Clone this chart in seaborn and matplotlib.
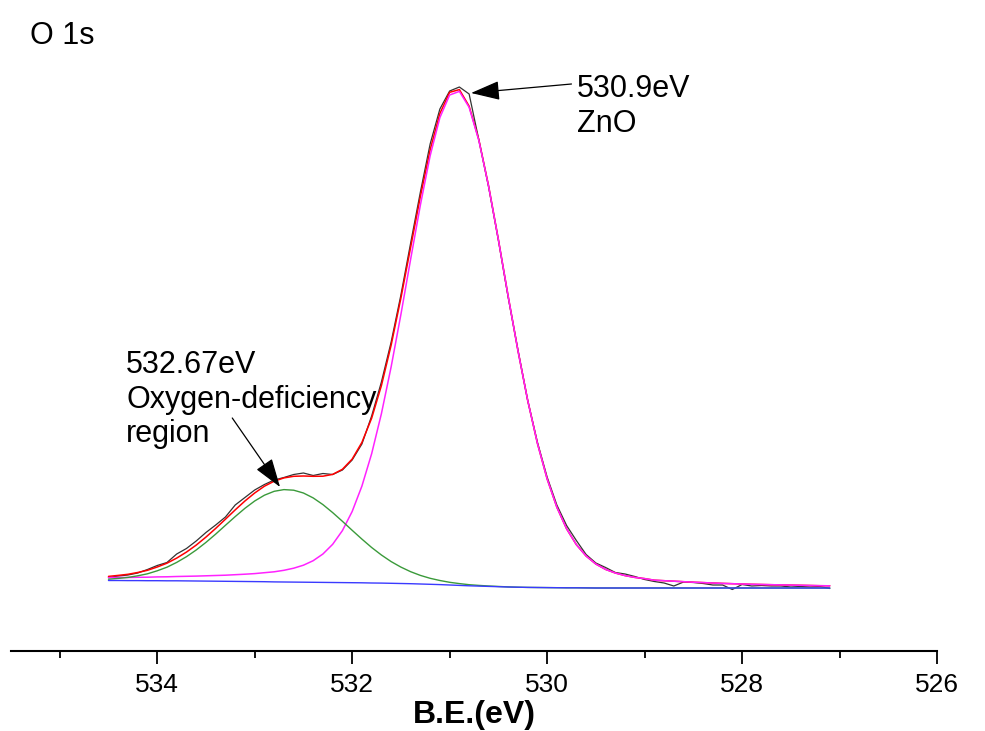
import numpy as np
import pandas as pd
import matplotlib
matplotlib.use("Agg")
import matplotlib.pyplot as plt
import seaborn as sns

sns.set_theme(style="white")
plt.rcParams["font.family"] = ["Liberation Sans", "DejaVu Sans"]
plt.rcParams["text.color"] = "black"
plt.rcParams["axes.labelcolor"] = "black"

## Binding energy grid (eV)
energy = [534.5, 534.4, 534.3, 534.2, 534.1, 534.0, 533.9, 533.8, 533.7, 533.6,
          533.5, 533.4, 533.3, 533.2, 533.1, 533.0, 532.9, 532.8, 532.7, 532.6,
          532.5, 532.4, 532.3, 532.2, 532.1, 532.0, 531.9, 531.8, 531.7, 531.6,
          531.5, 531.4, 531.3, 531.2, 531.1, 531.0, 530.9, 530.8, 530.7, 530.6,
          530.5, 530.4, 530.3, 530.2, 530.1, 530.0, 529.9, 529.8, 529.7, 529.6,
          529.5, 529.4, 529.3, 529.2, 529.1, 529.0, 528.9, 528.8, 528.7, 528.6,
          528.5, 528.4, 528.3, 528.2, 528.1, 528.0, 527.9, 527.8, 527.7, 527.6,
          527.5, 527.4, 527.3, 527.2, 527.1]

## Measured spectrum (a.u.)
raw = [73.5, 75.0, 76.0, 78.0, 81.5, 85.5, 88.5, 97.0, 102.5, 110.0,
       118.5, 126.0, 134.0, 146.0, 153.5, 161.0, 166.5, 171.0, 173.5, 176.5,
       178.0, 175.5, 177.5, 176.5, 181.0, 191.0, 207.0, 235.0, 269.0, 309.0,
       356.0, 408.0, 459.0, 507.0, 542.0, 560.0, 564.0, 557.0, 511.0, 464.0,
       411.0, 354.0, 301.5, 251.0, 209.0, 174.0, 146.0, 125.5, 110.5, 96.5,
       88.0, 83.5, 78.5, 77.0, 74.5, 71.5, 69.5, 68.0, 65.0, 69.0,
       68.5, 67.5, 66.0, 66.0, 61.5, 66.5, 65.0, 65.5, 65.0, 65.0,
       64.0, 64.5, 64.0, 64.5, 62.5]

## Shirley background
background = [70.5, 70.5, 70.4, 70.4, 70.3, 70.3, 70.2, 70.2, 70.1, 70.0,
              69.9, 69.8, 69.7, 69.6, 69.5, 69.4, 69.3, 69.1, 69.0, 68.9,
              68.8, 68.7, 68.6, 68.5, 68.4, 68.3, 68.2, 68.0, 67.9, 67.7,
              67.5, 67.3, 67.0, 66.7, 66.4, 66.0, 65.6, 65.2, 64.9, 64.6,
              64.3, 64.0, 63.8, 63.6, 63.5, 63.4, 63.3, 63.2, 63.2, 63.1,
              63.0, 63.0, 63.0, 63.0, 63.0, 63.0, 63.0, 63.0, 63.0, 63.0,
              63.0, 63.0, 63.0, 63.0, 63.0, 63.0, 63.0, 63.0, 63.0, 63.0,
              63.0, 63.0, 63.0, 63.0, 63.0]

## ZnO lattice oxygen component (height above background)
zno_peak = [2.8, 3.0, 3.1, 3.3, 3.5, 3.8, 4.0, 4.3, 4.6, 4.9,
            5.3, 5.7, 6.1, 6.7, 7.3, 8.0, 9.0, 10.1, 11.7, 13.9,
            17.0, 21.6, 28.4, 38.2, 52.0, 71.2, 96.7, 129.3, 169.4, 216.5,
            269.0, 324.5, 379.0, 428.5, 467.0, 490.0, 494.0, 478.5, 445.5, 400.0,
            347.0, 291.0, 237.0, 187.4, 144.4, 108.8, 80.5, 59.0, 43.2, 31.9,
            24.0, 18.6, 15.0, 12.4, 10.6, 9.4, 7.8, 7.3, 6.8, 6.3,
            5.8, 5.4, 5.0, 4.6, 4.3, 4.0, 3.7, 3.5, 3.3, 3.1,
            2.9, 2.7, 2.5, 2.3, 2.2]

## Oxygen-deficiency component (height above background)
vo_peak = [1.3, 2.1, 3.2, 4.8, 6.9, 9.9, 13.6, 18.4, 24.2, 31.0,
           38.7, 47.1, 56.0, 64.8, 73.2, 80.6, 86.5, 90.6, 92.4, 91.9,
           89.2, 84.4, 77.8, 69.9, 61.3, 52.4, 43.7, 35.5, 28.1, 21.7,
           16.4, 12.0, 8.6, 6.0, 4.1, 2.7, 1.8, 1.1, 0.7, 0.4,
           0.25, 0.1, 0.0, 0.0, 0.0, 0.0, 0.0, 0.0, 0.0, 0.0,
           0.0, 0.0, 0.0, 0.0, 0.0, 0.0, 0.0, 0.0, 0.0, 0.0,
           0.0, 0.0, 0.0, 0.0, 0.0, 0.0, 0.0, 0.0, 0.0, 0.0,
           0.0, 0.0, 0.0, 0.0, 0.0]

df = pd.DataFrame({"energy": energy, "raw": raw, "bg": background})
df["zno"] = df["bg"] + np.array(zno_peak)
df["vo"] = df["bg"] + np.array(vo_peak)
df["envelope"] = df["bg"] + np.array(zno_peak) + np.array(vo_peak)

fig = plt.figure(figsize=(9.85, 7.31), dpi=100)
ax = fig.add_axes([11 / 985, 1 - 651 / 731, 926 / 985, 651 / 731])

sns.lineplot(data=df, x="energy", y="raw", color="#333333", lw=0.9, ax=ax)
sns.lineplot(data=df, x="energy", y="envelope", color="#ff0000", lw=1.1, ax=ax)
sns.lineplot(data=df, x="energy", y="zno", color="#ff22ff", lw=1.1, ax=ax)
sns.lineplot(data=df, x="energy", y="vo", color="#3a9a3a", lw=1.0, ax=ax)
sns.lineplot(data=df, x="energy", y="bg", color="#3a3aff", lw=1.0, ax=ax)

ax.set_xlim(535.5, 526)
ax.set_ylim(0, 651)
ax.set_xticks([534, 532, 530, 528, 526])
ax.set_xticks([535, 533, 531, 529, 527], minor=True)
ax.set_yticks([])
ax.set_ylabel("")
ax.set_xlabel("B.E.(eV)", fontsize=23, fontweight="bold", labelpad=2,
              color="black")
for side in ["top", "right", "left"]:
    ax.spines[side].set_visible(False)
ax.spines["bottom"].set_linewidth(1.5)
ax.spines["bottom"].set_color("black")
ax.tick_params(axis="x", which="major", direction="out", length=9, width=1.3,
               labelsize=19, pad=7, bottom=True, colors="black")
ax.tick_params(axis="x", which="minor", direction="out", length=5, width=1.3,
               bottom=True, colors="black")

## Annotations
arrow = dict(arrowstyle="-|>,head_length=0.9,head_width=0.3", color="black",
             lw=0.9, mutation_scale=20, shrinkA=0, shrinkB=0)
ax.text(535.31, 630, "O 1s", fontsize=22, ha="left", va="top", color="black")
ax.annotate("", xy=(530.78, 558), xytext=(529.75, 567), arrowprops=arrow)
ax.text(529.69, 577, "530.9eV\nZnO", fontsize=22, ha="left", va="top",
        linespacing=1.2, color="black")
ax.annotate("", xy=(532.74, 164), xytext=(533.23, 233), arrowprops=arrow)
ax.text(534.32, 301, "532.67eV\nOxygen-deficiency\nregion", fontsize=22,
        ha="left", va="top", linespacing=1.2, color="black")

fig.savefig("out.png", dpi=100)
